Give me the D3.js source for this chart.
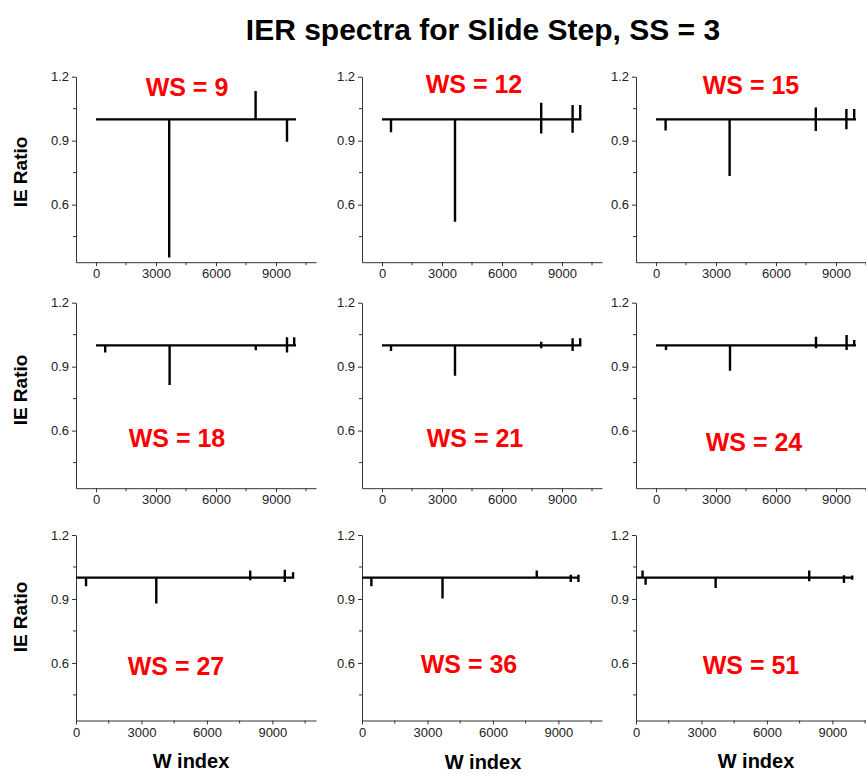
<!DOCTYPE html>
<html>
<head>
<meta charset="utf-8">
<script src="https://cdn.jsdelivr.net/npm/d3@7"></script>
<style>
  html, body { margin: 0; padding: 0; background: #fff; }
  svg { display: block; font-family: "Liberation Sans", Arial, sans-serif; }
</style>
</head>
<body>
<svg id="chart" width="866" height="774"></svg>
<script>
// IER spectra, one panel per window size (WS)

const windowSizes = [9, 12, 15, 18, 21, 24, 27, 36, 51];

// each spike: [W index, low ratio, high ratio]; baseline is 1.0
const spikesWS9  = [[3660, 0.352, 1.0], [7980, 1.0, 1.133], [9550, 0.895, 1.0]];
const spikesWS12 = [[450, 0.94, 1.0], [3650, 0.52, 1.0], [7960, 0.934, 1.078], [9530, 0.937, 1.067], [9910, 1.0, 1.067]];
const spikesWS15 = [[480, 0.948, 1.0], [3680, 0.734, 1.0], [7990, 0.945, 1.055], [9520, 0.954, 1.048], [9910, 1.0, 1.048]];
const spikesWS18 = [[460, 0.967, 1.0], [3680, 0.814, 1.0], [7990, 0.977, 1.0], [9550, 0.967, 1.038], [9910, 1.0, 1.038]];
const spikesWS21 = [[450, 0.973, 1.0], [3650, 0.857, 1.0], [7960, 0.986, 1.017], [9530, 0.973, 1.033], [9910, 1.0, 1.033]];
const spikesWS24 = [[500, 0.978, 1.0], [3700, 0.881, 1.0], [8000, 0.986, 1.04], [9530, 0.978, 1.048], [9910, 1.0, 1.025]];
const spikesWS27 = [[460, 0.96, 1.0], [3680, 0.879, 1.0], [7985, 0.988, 1.033], [9570, 0.98, 1.037], [9950, 1.0, 1.025]];
const spikesWS36 = [[430, 0.96, 1.0], [3690, 0.902, 1.0], [8010, 1.0, 1.033], [9570, 0.98, 1.014], [9920, 0.98, 1.014]];
const spikesWS51 = [[300, 1.0, 1.033], [440, 0.967, 1.0], [3650, 0.952, 1.0], [7940, 0.983, 1.033], [9530, 0.975, 1.011], [9910, 0.99, 1.01]];

const allSpikes = [spikesWS9, spikesWS12, spikesWS15, spikesWS18, spikesWS21, spikesWS24, spikesWS27, spikesWS36, spikesWS51];
const lineEnd = [10000, 9950, 10000, 10000, 9950, 10000, 9960, 9960, 9960];

const xMajorTicks = [0, 3000, 6000, 9000];
const xMinorTicks = [1500, 4500, 7500, 10500];
const yMajorTicks = [0.6, 0.9, 1.2];
const yMinorTicks = [0.45, 0.75, 1.05];

// layout
const colLeft = [76, 362, 636];
const rowTop = [76.7, 302.7, 535];
const plotW = 240, plotH = 185.5;
// WS label anchors (center x, baseline y) in page pixels
const labelPos = [[187, 96], [474, 93], [751, 94], [177, 447], [475, 447], [754, 451], [176, 675], [469, 673], [751, 674]];

const svg = d3.select("#chart");

svg.append("text")
    .attr("x", 483)
    .attr("y", 40)
    .attr("text-anchor", "middle")
    .attr("font-size", "30px")
    .attr("font-weight", "bold")
    .attr("fill", "#000")
    .text("IER spectra for Slide Step, SS = 3");

const line = d3.line();

windowSizes.forEach((ws, i) => {
    const row = Math.floor(i / 3), col = i % 3;
    const left = colLeft[col], top = rowTop[row];

    // bottom row starts at 0, the upper rows leave room left of 0
    const x = d3.scaleLinear()
        .domain(row === 2 ? [0, 11000] : [-1000, 11000])
        .range([0, plotW]);
    const y = d3.scaleLinear()
        .domain([0.33, 1.2])
        .range([plotH, 0]);

    const g = svg.append("g").attr("transform", `translate(${left},${top})`);

    // axes
    const xAxis = g.append("g")
        .attr("transform", `translate(0,${plotH})`)
        .call(d3.axisBottom(x).tickValues(xMajorTicks).tickFormat(d3.format("d")).tickSize(4).tickPadding(3).tickSizeOuter(0));
    xAxis.append("g").selectAll("line")
        .data(xMinorTicks)
        .join("line")
        .attr("x1", d => x(d)).attr("x2", d => x(d))
        .attr("y1", 0).attr("y2", 3)
        .attr("stroke", "#333");

    const yAxis = g.append("g")
        .call(d3.axisLeft(y).tickValues(yMajorTicks).tickFormat(d3.format(".1f")).tickSize(4).tickPadding(3).tickSizeOuter(0));
    yAxis.append("g").selectAll("line")
        .data(yMinorTicks)
        .join("line")
        .attr("x1", 0).attr("x2", -3)
        .attr("y1", d => y(d)).attr("y2", d => y(d))
        .attr("stroke", "#333");

    g.selectAll(".domain").attr("stroke", "#333");
    g.selectAll(".tick line").attr("stroke", "#333");
    g.selectAll(".tick text")
        .attr("font-size", "13px")
        .attr("fill", "#222")
        .attr("font-family", "'Liberation Sans', Arial, sans-serif");

    // spectrum: baseline at 1.0 with vertical spikes
    const pts = [[0, 1.0]];
    allSpikes[i].forEach(([sx, lo, hi]) => {
        pts.push([sx, 1.0], [sx, hi], [sx, lo], [sx, 1.0]);
    });
    pts.push([lineEnd[i], 1.0]);

    g.append("path")
        .attr("d", line(pts.map(p => [x(p[0]), y(p[1])])))
        .attr("fill", "none")
        .attr("stroke", "#000")
        .attr("stroke-width", 2.4)
        .attr("stroke-linejoin", "miter");

    svg.append("text")
        .attr("x", labelPos[i][0])
        .attr("y", labelPos[i][1])
        .attr("text-anchor", "middle")
        .attr("font-size", "25px")
        .attr("font-weight", "bold")
        .attr("fill", "#ff0000")
        .text(`WS = ${ws}`);
});

// y titles
[172, 390, 617].forEach(cy => {
    svg.append("text")
        .attr("transform", `translate(27,${cy}) rotate(-90)`)
        .attr("text-anchor", "middle")
        .attr("font-size", "19px")
        .attr("font-weight", "bold")
        .attr("fill", "#000")
        .text("IE Ratio");
});

// x titles
[[191, 768], [483, 769], [756, 768]].forEach(([cx, by]) => {
    svg.append("text")
        .attr("x", cx)
        .attr("y", by)
        .attr("text-anchor", "middle")
        .attr("font-size", "20px")
        .attr("font-weight", "bold")
        .attr("fill", "#000")
        .text("W index");
});
</script>
</body>
</html>
